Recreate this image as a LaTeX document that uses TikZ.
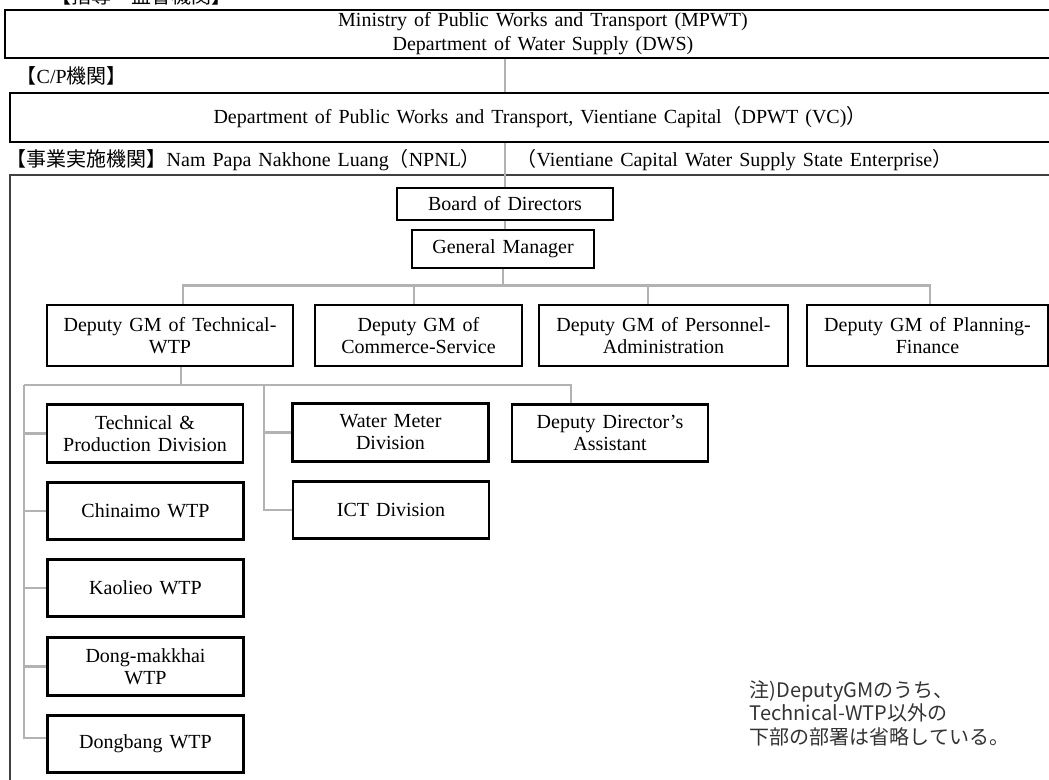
\documentclass[tikz,border=0pt]{standalone}
\usepackage{fontspec}
\setmainfont{Liberation Serif}[WordSpace=1.4]
\newfontfamily\jp{Noto Sans CJK JP}

\tikzset{
	orgbox/.style={draw, line width=2.2pt, fill=white, align=center, inner sep=0pt},
	leafbox/.style={orgbox, minimum width=147pt, minimum height=43pt},
	link/.style={draw=black!30, line width=1.8pt},
}

\begin{document}
\begin{tikzpicture}[x=0.75pt, y=-0.75pt, every node/.style={font=\fontsize{15}{16.5}\selectfont}]
	\useasboundingbox (0,0) rectangle (1049,779);
	\clip (0,0) rectangle (1049,779);
	% upper bodies
	\node (lblsup) at (141,-4) {\jp 【指導・監督機関】};
	\node[orgbox, minimum width=807pt, minimum height=36pt, font=\fontsize{15}{18}\selectfont] (mpwt) at (543,34) {Ministry of Public Works and Transport (MPWT)\\Department of Water Supply (DWS)};
	\node[anchor=west] (lblcp) at (12,76) {{\jp 【}C/P{\jp 機関】}};
	\node[orgbox, minimum width=795pt, minimum height=36.75pt] (dpwt) at (540,117.5) {Department of Public Works and Transport, Vientiane Capital{\jp （}DPWT (VC){\jp ）}};
	\node[anchor=west] (lblnpnl) at (2,160) {{\jp 【事業実施機関】}Nam Papa Nakhone Luang{\jp （}NPNL{\jp ）}};
	\node[anchor=west] (lblvc) at (512,160) {{\jp （}Vientiane Capital Water Supply State Enterprise{\jp ）}};
	\draw[black!75, line width=1pt] (10,800) -- (10,175) -- (1100,175);
	% NPNL
	\node[orgbox, minimum width=162pt, minimum height=24pt] (board) at (505,204) {Board of Directors};
	\node[orgbox, minimum width=136.5pt, minimum height=28.5pt] (gm) at (503,249) {General Manager};
	\node[orgbox, minimum width=184.5pt, minimum height=45.75pt] (dtech) at (170,335.5) {Deputy GM of Technical-\\WTP};
	\node[orgbox, minimum width=155.25pt, minimum height=45.75pt] (dcom) at (418.5,335.5) {Deputy GM of\\Commerce-Service};
	\node[orgbox, minimum width=186.75pt, minimum height=45.75pt] (dper) at (663.5,335.5) {Deputy GM of Personnel-\\Administration};
	\node[orgbox, minimum width=180.75pt, minimum height=45.75pt] (dplan) at (927.5,335.5) {Deputy GM of Planning-\\Finance};
	\node[leafbox] (tpd) at (145,433.5) {Technical \&\\Production Division};
	\node[leafbox] (wmd) at (390.5,432.5) {Water Meter\\Division};
	\node[leafbox] (dda) at (610,433) {Deputy Director's\\Assistant};
	\node[leafbox] (chin) at (145.5,511) {Chinaimo WTP};
	\node[leafbox] (ict) at (391,510) {ICT Division};
	\node[leafbox] (kao) at (145.5,588) {Kaolieo WTP};
	\node[leafbox] (dmk) at (145.5,666.5) {Dong-makkhai\\WTP};
	\node[leafbox] (dbang) at (145.5,744) {Dongbang WTP};
	\node[anchor=west, align=left, text=black!80, font=\jp\fontsize{15}{17.6}\selectfont] (note) at (745,713) {注)DeputyGMのうち、\\Technical-WTP以外の\\下部の部署は省略している。};
	% connectors
	\draw[link] (dpwt.north -| board.north) -- (board.north |- mpwt.south);
	\draw[link] (board.north) -- (board.north |- dpwt.south);
	\draw[link] (board.south) -- (board.south |- gm.north);
	\draw[link] ([xshift=9.75pt]dtech.north) -- ++(0,-18) -| (gm.south);
	\draw[link] ([xshift=-3.375pt]dcom.north) -- ++(0,-18) -| (gm.south);
	\draw[link] ([xshift=-11.625pt]dper.north) -- ++(0,-18) -| (gm.south);
	\draw[link] ([xshift=1.875pt]dplan.north) -- ++(0,-18) -| (gm.south);
	\coordinate (trunk) at (24,385);
	\coordinate (fork) at (264,385);
	\draw[link] ([xshift=8.25pt]dtech.south) -- ([xshift=8.25pt]dtech.south |- trunk);
	\draw[link] (trunk) -| ([xshift=-29.25pt]dda.north);
	\draw[link] (trunk) |- ([yshift=4.5pt]dbang.west);
	\foreach \leaf in {tpd,chin,kao,dmk}
		\draw[link] (\leaf.west) -- (\leaf.west -| trunk);
	\draw[link] (fork) |- (ict.west);
	\draw[link] (wmd.west) -- (wmd.west -| fork);
\end{tikzpicture}
\end{document}
